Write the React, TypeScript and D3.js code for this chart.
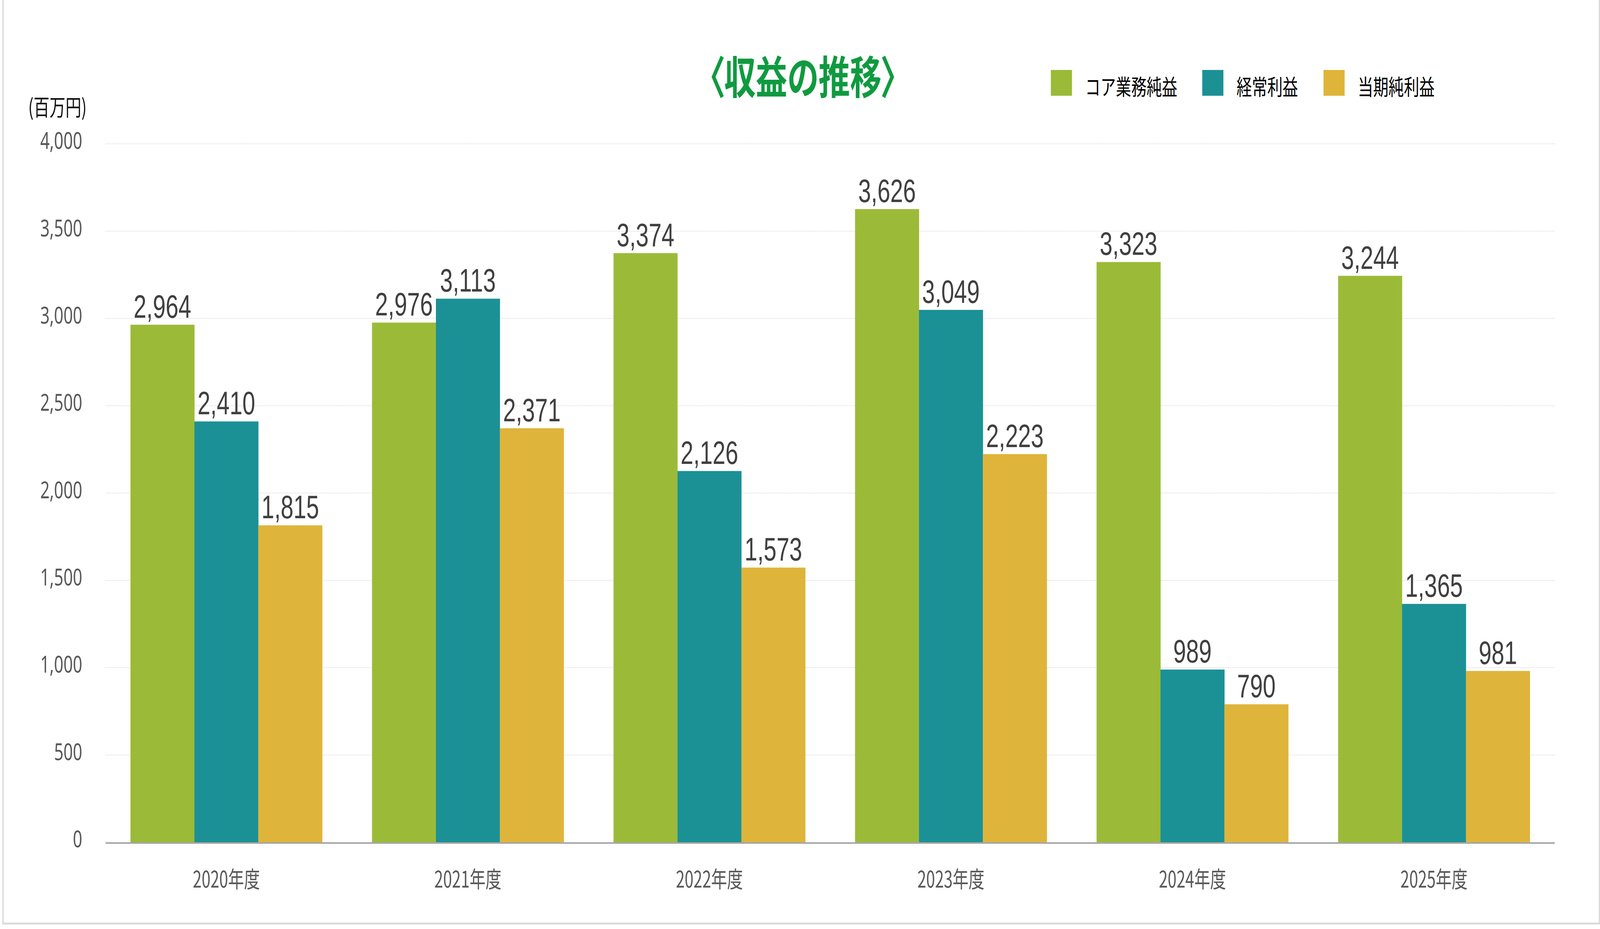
import React, { useEffect, useRef } from "react";
import * as d3 from "d3";

const years = ["2020年度", "2021年度", "2022年度", "2023年度", "2024年度", "2025年度"];
const seriesNames = ["コア業務純益", "経常利益", "当期純利益"];
const seriesColors = ["#9bbb38", "#1b9196", "#dfb43a"];
const coreProfit = [2964, 2976, 3374, 3626, 3323, 3244];
const ordinaryProfit = [2410, 3113, 2126, 3049, 989, 1365];
const netProfit = [1815, 2371, 1573, 2223, 790, 981];
const yTicks = [0, 500, 1000, 1500, 2000, 2500, 3000, 3500, 4000];

const W = 5833;
const H = 2377;

export default function App() {
  const svgRef = useRef<SVGSVGElement>(null);

  useEffect(() => {
    document.body.style.margin = "0";
    document.body.style.overflow = "hidden";
    if (!svgRef.current) return;
    const svg = d3.select(svgRef.current);
    svg.attr("viewBox", `0 0 ${W} ${H}`).attr("preserveAspectRatio", "none");
    svg.selectAll("*").remove();

    const values = [coreProfit, ordinaryProfit, netProfit];

    const x = d3
      .scaleBand<string>()
      .domain(years)
      .range([385, 5668])
      .paddingInner(0.206)
      .paddingOuter(0.103);

    const xs = d3
      .scaleBand<string>()
      .domain(seriesNames)
      .range([0, x.bandwidth()])
      .padding(0);

    const y = d3.scaleLinear().domain([0, 4000]).range([2155, 368]);

    // outer frame
    svg
      .append("path")
      .attr("d", `M11,-10 L11,2363 L5831,2363 L5831,-10`)
      .style("fill", "none")
      .style("stroke", "#dadada")
      .style("stroke-width", 5);

    // grid lines
    yTicks
      .filter((t) => t > 0)
      .forEach((t) => {
        svg
          .append("line")
          .attr("x1", 385)
          .attr("x2", 5668)
          .attr("y1", y(t))
          .attr("y2", y(t))
          .style("stroke", "#d9d9d9")
          .style("stroke-width", 2)
          .style("stroke-dasharray", "3,3");
      });

    // y tick labels
    svg
      .append("g")
      .selectAll("text")
      .data(yTicks)
      .join("text")
      .attr("x", 300)
      .attr("y", (d) => y(d))
      .attr("dy", "0.22em")
      .attr("text-anchor", "end")
      .text((d) => d3.format(",")(d))
      .style("font-family", "'Noto Sans', sans-serif")
      .style("font-size", "60px")
      .style("fill", "#595959");

    // unit label
    svg
      .append("text")
      .attr("x", 103)
      .attr("y", 296)
      .text("(百万円)")
      .style("font-family", "'Noto Sans CJK JP', sans-serif")
      .style("font-size", "58px")
      .style("fill", "#111");

    // bars
    const groups = svg
      .append("g")
      .selectAll("g")
      .data(years)
      .join("g")
      .attr("transform", (d) => `translate(${x(d)},0)`);

    seriesNames.forEach((name, si) => {
      groups
        .append("rect")
        .attr("x", xs(name) as number)
        .attr("width", xs.bandwidth() + 0.5)
        .attr("y", (_, i) => y(values[si][i]))
        .attr("height", (_, i) => y(0) - y(values[si][i]))
        .style("fill", seriesColors[si]);

      groups
        .append("text")
        .attr("x", (xs(name) as number) + xs.bandwidth() / 2)
        .attr("y", (_, i) => y(values[si][i]) - 18)
        .attr("text-anchor", "middle")
        .text((_, i) => d3.format(",")(values[si][i]))
        .style("font-family", "'Liberation Sans', Arial, sans-serif")
        .style("font-size", "84px")
        .style("fill", "#404040");
    });

    // x axis baseline
    svg
      .append("line")
      .attr("x1", 385)
      .attr("x2", 5668)
      .attr("y1", y(0) + 2)
      .attr("y2", y(0) + 2)
      .style("stroke", "#a6a6a6")
      .style("stroke-width", 4);

    // x labels
    svg
      .append("g")
      .selectAll("text")
      .data(years)
      .join("text")
      .attr("x", (d) => (x(d) as number) + x.bandwidth() / 2)
      .attr("y", 2271)
      .attr("text-anchor", "middle")
      .text((d) => d)
      .style("font-family", "'Noto Sans CJK JP', sans-serif")
      .style("font-size", "58px")
      .style("fill", "#595959");

    // title
    svg
      .append("text")
      .attr("x", 2927)
      .attr("y", 240)
      .attr("text-anchor", "middle")
      .text("〈収益の推移〉")
      .style("font-family", "'Noto Sans CJK JP', sans-serif")
      .style("font-size", "115px")
      .style("font-weight", "bold")
      .style("font-feature-settings", "'palt'")
      .style("fill", "#109a40");

    // legend
    const legendX = [3831, 4383, 4825];
    seriesNames.forEach((name, si) => {
      svg
        .append("rect")
        .attr("x", legendX[si])
        .attr("y", 179)
        .attr("width", 77)
        .attr("height", 66)
        .style("fill", seriesColors[si]);
      svg
        .append("text")
        .attr("x", legendX[si] + 125)
        .attr("y", 243)
        .text(name)
        .style("font-family", "'Noto Sans CJK JP', sans-serif")
        .style("font-size", "56px")
        .style("fill", "#000");
    });
  }, []);

  return (
    <svg
      ref={svgRef}
      style={{ display: "block", width: "100vw", height: "100vh" }}
    />
  );
}
